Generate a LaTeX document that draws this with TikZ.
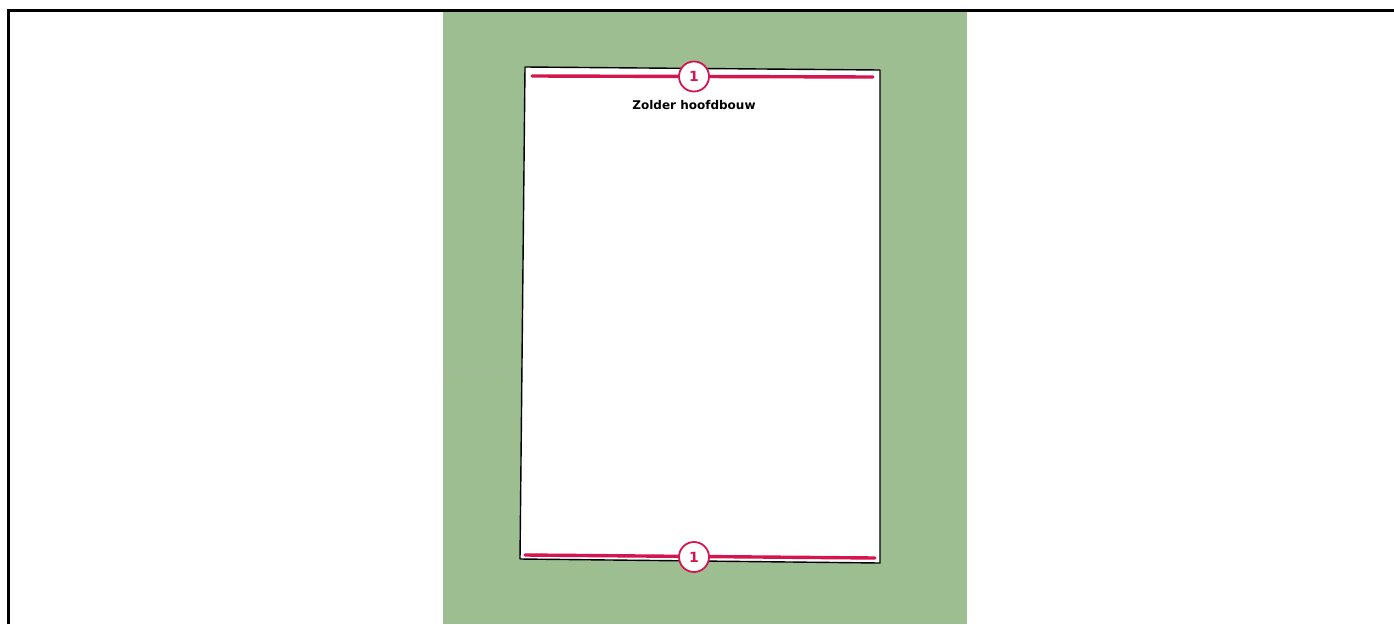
\documentclass[tikz,border=0pt]{standalone}
\usepackage{fontspec}
\setmainfont{DejaVu Sans}
\definecolor{lawn}{RGB}{157,190,145}
\definecolor{mark}{RGB}{213,22,78}
\begin{document}
\begin{tikzpicture}[x=1pt,y=-1pt,
  sheet/.style={fill=white,draw=black,line width=1.4pt,line join=round},
  measure/.style={draw=mark,line width=3.4pt,line cap=round},
  badge/.style={circle,draw=mark,fill=white,line width=1.8pt,minimum size=30pt,inner sep=0pt,font=\bfseries\fontsize{14}{14}\selectfont,text=mark},
  title/.style={font=\bfseries\fontsize{12}{12}\selectfont}]
\useasboundingbox (0,0) rectangle (1394,624);
\fill[white] (0,0) rectangle (1394,624);
\fill[lawn] (443,11) rectangle (967,624);
\draw[line width=3pt] (8.5,624) -- (8.5,10.5) -- (1394,10.5);
\draw[gray!60,densely dotted,line width=0.8pt] (443,371) -- (520,370);
\draw[sheet] (525,67) -- (880,70) -- (880,563) -- (520,559) -- cycle;
\coordinate (tl) at (532,76);
\coordinate (tr) at (873,77);
\coordinate (bl) at (525,555);
\coordinate (br) at (875,558);
\draw[measure] (tl) -- (tr);
\draw[measure] (bl) -- (br);
\node[badge] (b1) at (694,76.5) {1};
\node[badge] (b2) at (694,557) {1};
\node[title] (t) at (694,105) {Zolder hoofdbouw};
\end{tikzpicture}
\end{document}
